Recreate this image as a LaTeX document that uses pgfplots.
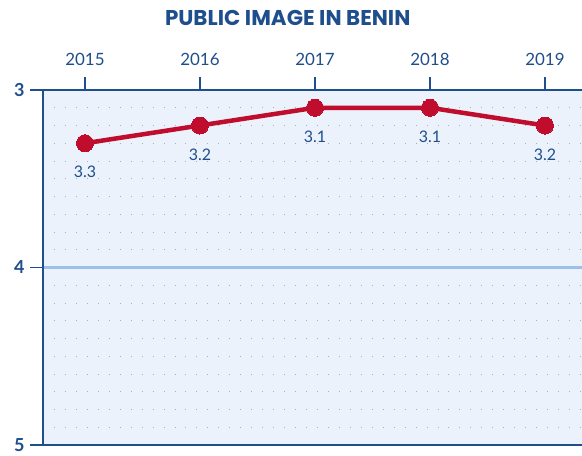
\documentclass[border=0pt]{standalone}
\usepackage{fontspec}
\setmainfont{Lato}
\newfontfamily\titlefont{Poppins}
\usepackage{pgfplots}
\pgfplotsset{compat=1.18}
\definecolor{bgblue}{HTML}{EBF2FC}
\definecolor{dkblue}{HTML}{1F4E8C}
\definecolor{lineblue}{HTML}{9DC0E8}
\definecolor{dred}{HTML}{C00D2E}
\definecolor{dotc}{HTML}{A3AEC0}
\begin{document}
\begin{tikzpicture}
\begin{axis}[
  scale only axis, width=545bp, height=355bp,
  xmin=2014.635, xmax=2019.374, ymin=3, ymax=5, y dir=reverse,
  axis background/.style={fill=bgblue},
  axis x line=top, axis y line=left,
  axis line style={-, draw=none},
  /pgf/number format/assume math mode=true,
  xtick={2015,2016,2017,2018,2019},
  xticklabels={2015,2016,2017,2018,2019},
  ytick={3,4,5},
  yticklabels={3,4,5},
  minor ytick={3.1,3.2,3.3,3.4,3.5,3.6,3.7,3.8,3.9,4.1,4.2,4.3,4.4,4.5,4.6,4.7,4.8,4.9},
  minor tick length=0pt,
  yminorgrids,
  minor grid style={dotc, line width=0.8pt, dash pattern=on 0.8pt off 10.2pt},
  tick align=outside, major tick length=13bp,
  tick style={dkblue, line width=1.3pt},
  xticklabel style={text=dkblue, font=\fontsize{17}{17}\selectfont, yshift=8bp},
  yticklabel style={text=dkblue, font=\bfseries\fontsize{18}{18}\selectfont, xshift=-2bp},
  clip=false,
]
\draw[lineblue, line width=2.5pt] (axis cs:2014.635,4) -- (axis cs:2019.374,4);
\addplot[dred, line width=4.5bp, mark=*, mark size=8.5bp, mark options={fill=dred, line width=0pt},
  nodes near coords, point meta=explicit symbolic,
  every node near coord/.style={anchor=center, yshift=-29bp, text=dkblue, font=\fontsize{16}{16}\selectfont}]
  table[meta=l] {
x y l
2015 3.3 3.3
2016 3.2 3.2
2017 3.1 3.1
2018 3.1 3.1
2019 3.2 3.2
};
\draw[dkblue, line width=1.3pt] (axis description cs:0,0) -- (axis description cs:1,0);
\draw[dkblue, line width=1.3pt] (axis description cs:0,1) -- (axis description cs:1,1);
\draw[dkblue, line width=1.3pt] (axis description cs:0,0) -- (axis description cs:0,1);
\node[text=dkblue, font=\titlefont\bfseries\fontsize{21.5}{21.5}\selectfont] at (axis description cs:0.449,1) [xshift=0bp, yshift=72bp] {PUBLIC IMAGE IN BENIN};
\coordinate (bl) at (axis description cs:0,0);
\coordinate (tr) at (axis description cs:1,1);
\end{axis}
\pgfresetboundingbox
\path[use as bounding box] ([xshift=-43bp,yshift=-11bp]bl) rectangle ([xshift=-6bp,yshift=90bp]tr);
\end{tikzpicture}
\end{document}
